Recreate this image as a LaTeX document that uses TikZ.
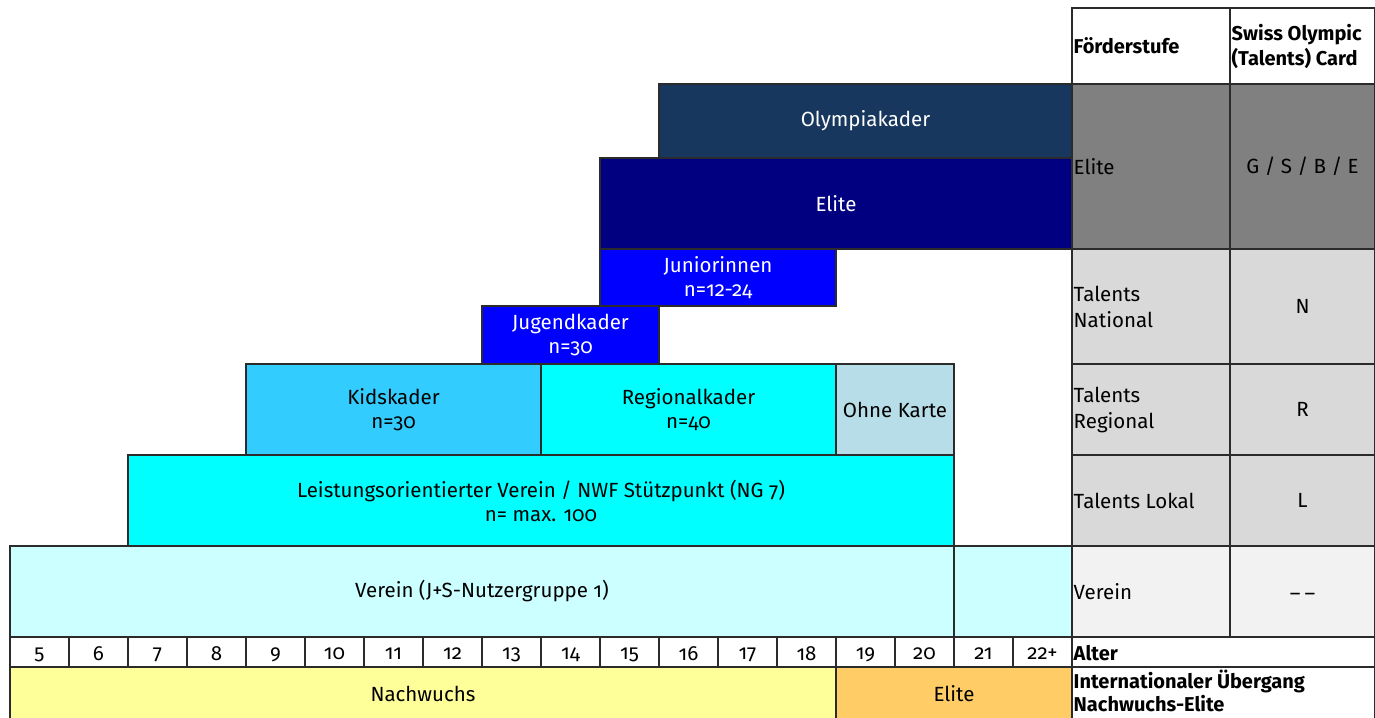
\documentclass[tikz,border=0pt]{standalone}
\usepackage{fontspec}
\setmainfont{Fira Sans}[Numbers=OldStyle]
\definecolor{linec}{HTML}{2B2B2B}
\definecolor{colOly}{HTML}{17375E}
\definecolor{colElite}{HTML}{000080}
\definecolor{colJun}{HTML}{0000FF}
\definecolor{colKids}{HTML}{33CCFF}
\definecolor{colReg}{HTML}{00FFFF}
\definecolor{colOhne}{HTML}{B7DEE8}
\definecolor{colVerein}{HTML}{CCFFFF}
\definecolor{colNach}{HTML}{FFFF99}
\definecolor{colEliteB}{HTML}{FFCC66}
\definecolor{grayA}{HTML}{808080}
\definecolor{grayB}{HTML}{D9D9D9}
\definecolor{grayC}{HTML}{F2F2F2}
\tikzset{
  box/.style={draw=linec, line width=1.2pt, inner sep=0pt, outer sep=0pt,
    anchor=north west, align=center, font=\fontsize{20.5}{24}\selectfont},
  whitetext/.style={text=white},
  lefttext/.style={anchor=west, align=left, inner sep=0pt, font=\fontsize{20.5}{26}\selectfont},
  headtext/.style={anchor=west, align=left, inner sep=0pt, font=\fontsize{20}{25}\selectfont\bfseries},
}
\newcommand\cellbox[7]{\node[box,#6,minimum width=#4pt,minimum height=#5pt] (#1) at (#2,#3) {#7};}
\begin{document}
\begin{tikzpicture}[x=1pt,y=-1pt]
\useasboundingbox (0,0) rectangle (1375,717);
% pyramid
\cellbox{oly}{659}{84}{413}{74}{fill=colOly,whitetext}{Olympiakader}
\cellbox{elite}{600}{158}{472}{91}{fill=colElite,whitetext}{Elite}
\cellbox{jun}{600}{249}{236}{57}{fill=colJun,whitetext}{Juniorinnen\\n=12-24}
\cellbox{jug}{482}{306}{177}{58}{fill=colJun,whitetext}{Jugendkader\\n=30}
\cellbox{kids}{246}{364}{295}{91}{fill=colKids}{Kidskader\\n=30}
\cellbox{reg}{541}{364}{295}{91}{fill=colReg}{Regionalkader\\n=40}
\cellbox{ohne}{836}{364}{118}{91}{fill=colOhne}{Ohne Karte}
\cellbox{leist}{128}{455}{826}{91}{fill=colReg}{Leistungsorientierter Verein / NWF Stützpunkt (NG 7)\\n= max. 100}
\cellbox{verein}{10}{546}{944}{91}{fill=colVerein}{Verein (J+S-Nutzergruppe 1)}
\cellbox{vereinb}{954}{546}{118}{91}{fill=colVerein}{}
% ages
\foreach \a [count=\i from 0] in {5,6,7,8,9,10,11,12,13,14,15,16,17,18,19,20,21,22+}{
  \node[box,fill=white,minimum width=59pt,minimum height=30pt,text depth=0pt] (age\i) at ({10+59*\i},637) {\raisebox{-4pt}{\a}};
}
\cellbox{nach}{10}{667}{826}{60}{fill=colNach}{}
\cellbox{eliteb}{836}{667}{236}{60}{fill=colEliteB}{}
\node[box,anchor=center,draw=none,fill=none] (nachT) at (423,694) {Nachwuchs};
\node[box,anchor=center,draw=none,fill=none] (elitebT) at (954,694) {Elite};
% right table
\cellbox{hF}{1072}{8}{158}{76}{fill=white}{}
\cellbox{hC}{1230}{8}{145}{76}{fill=white}{}
\cellbox{fE}{1072}{84}{158}{165}{fill=grayA}{}
\cellbox{cE}{1230}{84}{145}{165}{fill=grayA}{G / S / B / E}
\cellbox{fN}{1072}{249}{158}{115}{fill=grayB}{}
\cellbox{cN}{1230}{249}{145}{115}{fill=grayB}{N}
\cellbox{fR}{1072}{364}{158}{91}{fill=grayB}{}
\cellbox{cR}{1230}{364}{145}{91}{fill=grayB}{R}
\cellbox{fL}{1072}{455}{158}{91}{fill=grayB}{}
\cellbox{cL}{1230}{455}{145}{91}{fill=grayB}{L}
\cellbox{fV}{1072}{546}{158}{91}{fill=grayC}{}
\cellbox{cV}{1230}{546}{145}{91}{fill=grayC}{\smash{\raisebox{-9pt}{–\hspace{4pt}–}}}
\cellbox{alter}{1072}{637}{303}{30}{fill=white}{}
\cellbox{intl}{1072}{667}{303}{60}{fill=white}{}
\node[headtext] (hFT) at ([xshift=1.5pt]hF.west) {Förderstufe};
\node[headtext] (hCT) at ([xshift=1.5pt]hC.west) {Swiss Olympic\\(Talents) Card};
\node[lefttext] (fET) at ([xshift=1.5pt]fE.west) {Elite};
\node[lefttext] (fNT) at ([xshift=1.5pt]fN.west) {Talents\\National};
\node[lefttext] (fRT) at ([xshift=1.5pt]fR.west) {Talents\\Regional};
\node[lefttext] (fLT) at ([xshift=1.5pt]fL.west) {Talents Lokal};
\node[lefttext] (fVT) at ([xshift=1.5pt]fV.west) {Verein};
\node[headtext] (alterT) at ([xshift=1.5pt,yshift=-1pt]alter.west) {Alter};
\node[headtext,anchor=north west,font=\fontsize{20}{23}\selectfont\bfseries] (intlT) at ([xshift=1.5pt,yshift=-3pt]intl.north west) {Internationaler Übergang\\Nachwuchs-Elite};
\end{tikzpicture}
\end{document}
